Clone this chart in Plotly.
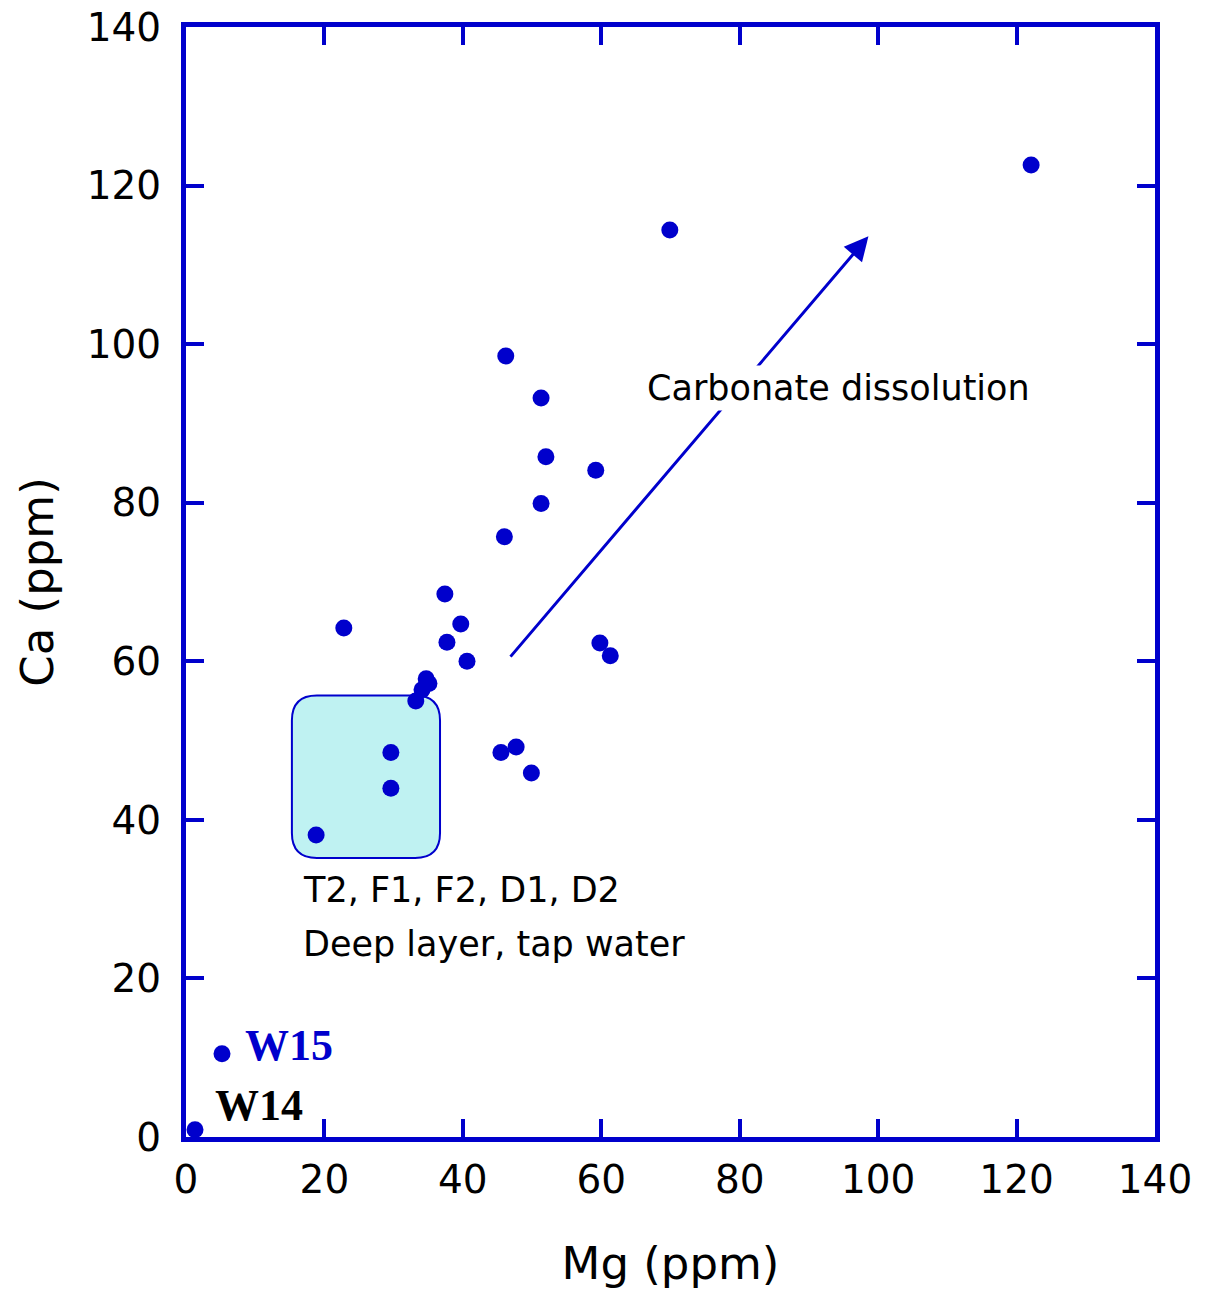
import plotly.graph_objects as go

# Data (Mg ppm, Ca ppm)
mg = [122.1, 69.9, 46.2, 51.3, 52.0, 59.2, 51.3, 46.0, 37.4, 22.8, 39.7, 37.7, 40.6,
      59.8, 61.3, 34.7, 35.1, 34.1, 33.2, 29.6, 29.6, 18.8, 45.5, 47.7, 49.9, 5.2, 1.3]
ca = [122.6, 114.4, 98.5, 93.2, 85.8, 84.1, 79.9, 75.7, 68.5, 64.2, 64.7, 62.4, 60.0,
      62.3, 60.7, 57.8, 57.2, 56.4, 55.0, 48.5, 44.0, 38.1, 48.5, 49.2, 45.9, 10.5, 0.9]

x_ticks = [0, 20, 40, 60, 80, 100, 120, 140]
y_ticks = [0, 20, 40, 60, 80, 100, 120, 140]

BLUE = "#0000CC"
FONT = "DejaVu Sans"

# Rounded box (data units)
bx0, bx1, by0, by1 = 15.3, 36.7, 35.2, 55.7
rx, ry = 3.6, 3.15

fig = go.Figure()

path = (f"M {bx0+rx},{by0} L {bx1-rx},{by0} Q {bx1},{by0} {bx1},{by0+ry} "
        f"L {bx1},{by1-ry} Q {bx1},{by1} {bx1-rx},{by1} "
        f"L {bx0+rx},{by1} Q {bx0},{by1} {bx0},{by1-ry} "
        f"L {bx0},{by0+ry} Q {bx0},{by0} {bx0+rx},{by0} Z")
fig.add_shape(type="path", path=path, xref="x", yref="y",
              fillcolor="#BFF2F2", line=dict(color=BLUE, width=2), layer="below")

fig.add_trace(go.Scatter(x=mg, y=ca, mode="markers",
                         marker=dict(size=17, color=BLUE),
                         cliponaxis=False, showlegend=False))

# Arrow
fig.add_annotation(x=98.6, y=113.6, ax=46.7, ay=60.4, xref="x", yref="y",
                   axref="x", ayref="y", showarrow=True, arrowhead=2,
                   arrowsize=1.6, arrowwidth=3, arrowcolor=BLUE, text="")
fig.add_annotation(x=94.2, y=94.5, xref="x", yref="y", showarrow=False,
                   text="Carbonate dissolution", bgcolor="white", borderpad=2,
                   font=dict(family=FONT, size=35, color="black"))
fig.add_annotation(x=16.6, y=31.1, xref="x", yref="y", showarrow=False,
                   xanchor="left", text="T2, F1, F2, D1, D2",
                   font=dict(family=FONT, size=35, color="black"))
fig.add_annotation(x=16.6, y=24.3, xref="x", yref="y", showarrow=False,
                   xanchor="left", text="Deep layer, tap water",
                   font=dict(family=FONT, size=35, color="black"))
fig.add_annotation(x=8.2, y=11.6, xref="x", yref="y", showarrow=False,
                   xanchor="left", text="<b>W15</b>",
                   font=dict(family="Liberation Serif", size=44, color=BLUE))
fig.add_annotation(x=3.9, y=4.0, xref="x", yref="y", showarrow=False,
                   xanchor="left", text="<b>W14</b>", bgcolor="white",
                   font=dict(family="Liberation Serif", size=44, color="black"))

axis_common = dict(range=[0, 140], showgrid=False, zeroline=False, automargin=False,
                   showline=True, linecolor=BLUE, linewidth=5, mirror="allticks",
                   ticks="inside", ticklen=18, tickwidth=4, tickcolor=BLUE,
                   tickfont=dict(family=FONT, size=39, color="black"))

fig.update_layout(
    width=1210, height=1291,
    margin=dict(l=186, r=55, t=27, b=154),
    paper_bgcolor="white", plot_bgcolor="white",
    xaxis=dict(**axis_common, tickvals=x_ticks, ticklabelstandoff=4,
               title=dict(text="Mg (ppm)", font=dict(family=FONT, size=45, color="black"),
                          standoff=48)),
    yaxis=dict(**axis_common, tickvals=y_ticks, ticklabelstandoff=12,
               title=dict(text="Ca (ppm)", font=dict(family=FONT, size=45, color="black"),
                          standoff=20)),
)

fig.write_html("out.html", config={"displayModeBar": False},
               post_script="document.body.style.margin='0';")
